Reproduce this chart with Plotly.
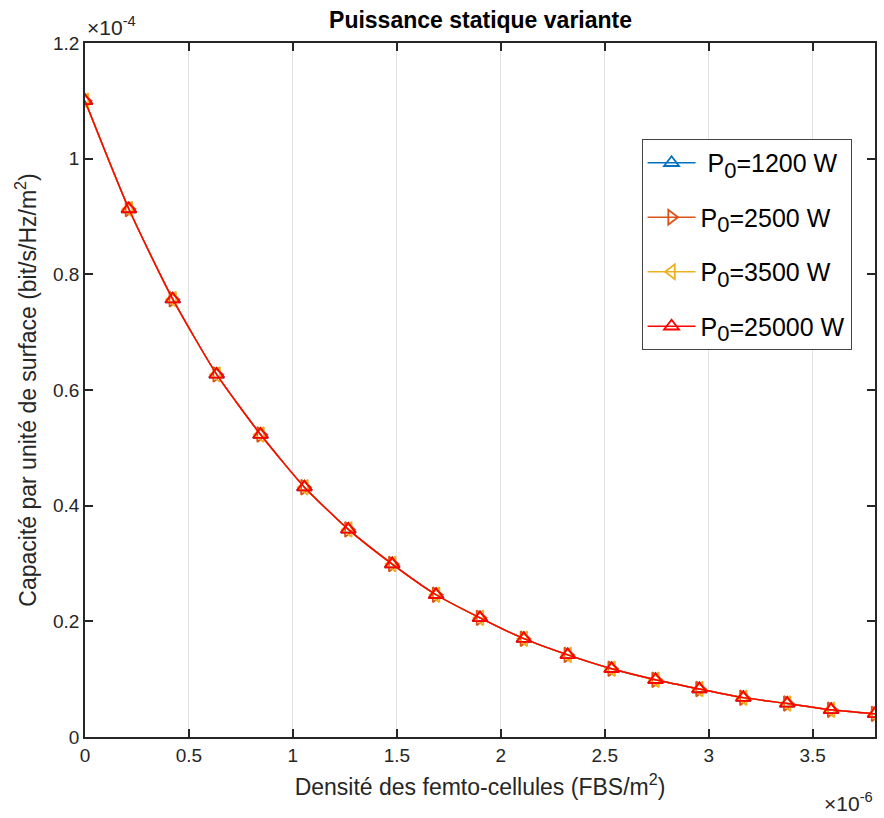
import plotly.graph_objects as go

# Data (x in FBS/m^2, y in bit/s/Hz/m^2)
density = [0.0, 0.2111e-6, 0.4222e-6, 0.6333e-6, 0.8444e-6, 1.0556e-6, 1.2667e-6,
           1.4778e-6, 1.6889e-6, 1.9e-6, 2.1111e-6, 2.3222e-6, 2.5333e-6, 2.7444e-6,
           2.9556e-6, 3.1667e-6, 3.3778e-6, 3.5889e-6, 3.8e-6]
capacity_e4 = [1.100, 0.913, 0.757, 0.627, 0.523, 0.432, 0.359, 0.299, 0.246, 0.206,
               0.170, 0.142, 0.118, 0.099, 0.083, 0.068, 0.058, 0.047, 0.040]
capacity = [v * 1e-4 for v in capacity_e4]

series_names = ["\u00a0P<sub><span style='font-size:22px'>0</span></sub>=1200 W",
                "P<sub><span style='font-size:22px'>0</span></sub>=2500 W",
                "P<sub><span style='font-size:22px'>0</span></sub>=3500 W",
                "P<sub><span style='font-size:22px'>0</span></sub>=25000 W"]
series_values = [capacity, capacity, capacity, capacity]
series_colors = ["#0072BD", "#D95319", "#EDB120", "#FF0000"]
series_symbols = ["triangle-up-open", "triangle-right-open",
                  "triangle-left-open", "triangle-up-open"]

x_tickvals = [0, 0.5e-6, 1e-6, 1.5e-6, 2e-6, 2.5e-6, 3e-6, 3.5e-6]
x_ticktext = ["0", "0.5", "1", "1.5", "2", "2.5", "3", "3.5"]
y_tickvals = [0, 0.2e-4, 0.4e-4, 0.6e-4, 0.8e-4, 1.0e-4, 1.2e-4]
y_ticktext = ["0", "0.2", "0.4", "0.6", "0.8", "1", "1.2"]

FONT = "Liberation Sans, Arial, sans-serif"
AX = "#262626"

fig = go.Figure()
for i, (name, vals, col, sym) in enumerate(zip(series_names, series_values, series_colors, series_symbols)):
    fig.add_trace(go.Scatter(
        x=density, y=vals, name=name, mode="lines+markers", legendgroup=f"g{i}",
        line=dict(color=col, width=1.4, shape="spline", smoothing=0.6),
        marker=dict(symbol=sym, size=13, color=col, line=dict(color=col, width=1.8)),
    ))

fig.update_layout(
    width=884, height=818,
    margin=dict(l=85, r=7, t=43, b=81),
    paper_bgcolor="white", plot_bgcolor="white",
    font=dict(family=FONT, color=AX),
    title=dict(text="<b>Puissance statique variante</b>", x=0.5436, xanchor="center",
               y=1 - 20 / 818, yanchor="middle",
               font=dict(family=FONT, size=23, color="black")),
    showlegend=True,
    legend=dict(x=0.7045, y=0.8617, xanchor="left", yanchor="top",
                bgcolor="white", bordercolor="#444444", borderwidth=1,
                font=dict(family=FONT, size=25, color="black"),
                tracegroupgap=19, itemwidth=48),
    xaxis=dict(range=[0, 3.8e-6], tickvals=x_tickvals, ticktext=x_ticktext,
               showgrid=True, gridcolor="#e3e3e3", gridwidth=1, zeroline=False,
               showline=True, linecolor=AX, linewidth=1.5, mirror="ticks",
               ticks="inside", ticklen=8, tickwidth=1.5, tickcolor=AX,
               tickfont=dict(family=FONT, size=19, color=AX),
               title=dict(text="Densité des femto-cellules (FBS/m<sup>2</sup>)",
                          font=dict(family=FONT, size=23, color=AX), standoff=14)),
    yaxis=dict(range=[0, 1.2e-4], tickvals=y_tickvals, ticktext=y_ticktext,
               showgrid=False, zeroline=False,
               showline=True, linecolor=AX, linewidth=1.5, mirror="ticks",
               ticks="inside", ticklen=8, tickwidth=1.5, tickcolor=AX,
               tickfont=dict(family=FONT, size=19, color=AX),
               title=dict(text="Capacité par unité de surface (bit/s/Hz/m<sup>2</sup>)",
                          font=dict(family=FONT, size=23, color=AX), standoff=10)),
)

fig.add_annotation(xref="paper", yref="paper", x=0, y=1, xanchor="left", yanchor="bottom",
                   text="×10<sup>-4</sup>", showarrow=False, xshift=0, yshift=2,
                   font=dict(family=FONT, size=21, color=AX))
fig.add_annotation(xref="paper", yref="paper", x=1, y=0, xanchor="right", yanchor="top",
                   text="×10<sup>-6</sup>", showarrow=False, yshift=-50,
                   font=dict(family=FONT, size=21, color=AX))

fig.write_html("out.html")
